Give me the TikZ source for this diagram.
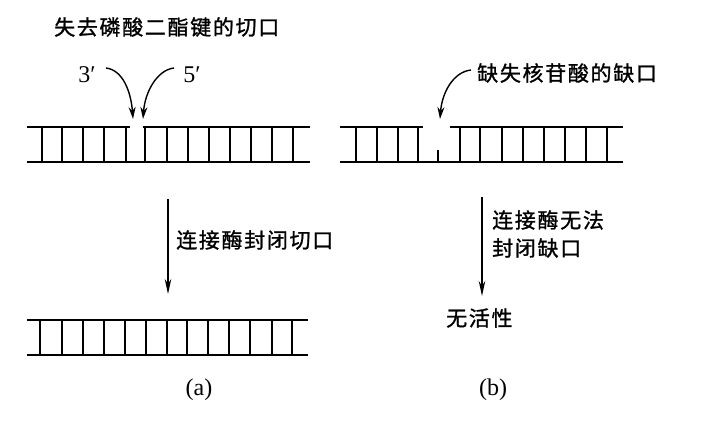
\documentclass[tikz,border=0pt]{standalone}
\usepackage{fontspec}
\setmainfont{Liberation Serif}
\newfontfamily\cjk[LetterSpace=8,FakeBold=1.2]{Noto Sans CJK SC}
\usetikzlibrary{arrows.meta}
\begin{document}
\begin{tikzpicture}[x=1pt,y=-1pt,
  strand/.style={line width=1.6pt},
  rung/.style={line width=1.3pt},
  cn/.style={font=\cjk\fontsize{21}{24}\selectfont, inner sep=0pt, anchor=west},
  lab/.style={font=\fontsize{24}{26}\selectfont, inner sep=0pt},
  curvearrow/.style={line width=1.4pt,-{Stealth[length=12pt,width=7pt]}},
  downarrow/.style={line width=1.2pt,-{Stealth[length=15pt,width=6.5pt]}}]
\useasboundingbox (0,0) rectangle (712,433);

% ---- (a) top ladder with nick
\draw[strand] (27,127) -- (130,127);
\draw[strand] (143,127) -- (310,127);
\draw[strand] (27,162) -- (310,162);
\foreach \x in {42,62,83,104,126,145,167,188,209,230,251,272,293}
  \draw[rung] (\x,127) -- (\x,162);

% ---- (b) top ladder with gap
\draw[strand] (340,127) -- (423,127);
\draw[strand] (450,127) -- (623,127);
\draw[strand] (340,162) -- (623,162);
\foreach \x in {356,377,398,418,460,480,502,523,544,565,586,607}
  \draw[rung] (\x,127) -- (\x,162);
\draw[rung] (438,150) -- (438,162);

% ---- (a) bottom ladder sealed
\draw[strand] (27,320) -- (308,320);
\draw[strand] (27,355) -- (308,355);
\foreach \x in {40,62,83,104,125,146,167,187,208,229,250,272,292}
  \draw[rung] (\x,320) -- (\x,355);

% ---- texts
\node[cn] (title) at (54,27) {失去磷酸二酯键的切口};
\node[lab] (p3) at (87,75) {3′};
\node[lab] (p5) at (192,75) {5′};
\node[cn] (gapl) at (477,73) {缺失核苷酸的缺口};
\node[cn] (liga) at (176,240) {连接酶封闭切口};
\node[cn] (ligb1) at (492,220) {连接酶无法};
\node[cn] (ligb2) at (492,248) {封闭缺口};
\node[cn] (inact) at (446,318) {无活性};
\node[lab] (capa) at (199,390) {(a)};
\node[lab] (capb) at (493,390) {(b)};

% ---- arrow end points
\coordinate (s3) at (106,68);
\coordinate (e3) at (133,119);
\coordinate (s5) at (174,68);
\coordinate (e5) at (143,119);
\coordinate (sg) at (471,70);
\coordinate (eg) at (440,119);
\coordinate (sa) at (168,199);
\coordinate (ea) at (168,294);
\coordinate (sb) at (482,197);
\coordinate (eb) at (482,296);

\draw[curvearrow] (s3) .. controls (123,70) and (131,92) .. (e3);
\draw[curvearrow] (s5) .. controls (157,70) and (145,92) .. (e5);
\draw[curvearrow] (sg) .. controls (453,72) and (442,93) .. (eg);
\draw[downarrow] (sa) -- (ea);
\draw[downarrow] (sb) -- (eb);
\end{tikzpicture}
\end{document}
